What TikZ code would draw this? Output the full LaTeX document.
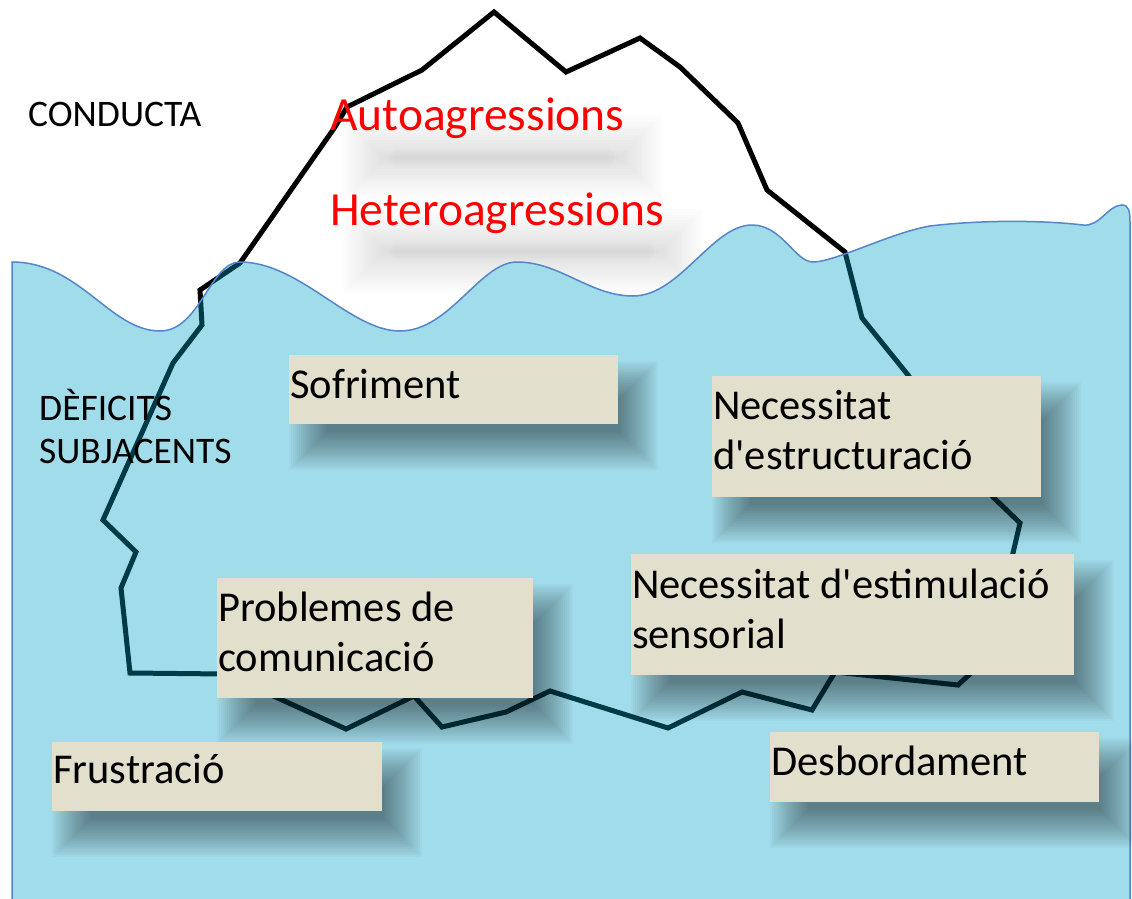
\documentclass[tikz,border=0pt]{standalone}
\usepackage{fontspec}
\setmainfont{Carlito}[Ligatures=TeXOff]
\definecolor{water}{RGB}{161,220,234}
\definecolor{waterline}{RGB}{84,134,200}
\definecolor{deep}{RGB}{0,58,72}
\definecolor{boxfill}{RGB}{226,223,204}
% soft (blurred) shadow made of stacked translucent rectangles
\newcommand\blurrect[7]{% x1 y1 x2 y2 radius alpha colour
  \foreach \k in {0,...,19}{%
    \pgfmathsetmacro\dd{#5-\k*2*#5/20}%
    \fill[#7, fill opacity=#6] ({#1-\dd},{#2-\dd}) rectangle ({#3+\dd},{#4+\dd});
  }}
\tikzset{
  iceberg path/.style={insert path={(225,674) -- (130,673) -- (121,588) -- (136,552) -- (103,520) -- (173,363) -- (202,325) -- (200,290) -- (240,263) -- (335,127) -- (347,107) -- (422,70) -- (494,12) -- (566,72) -- (640,38) -- (680,67) -- (738,123) -- (767,190) -- (845,252) -- (862,318) -- (908,375) -- (993,497) -- (1020,523) -- (1013,553) -- (985,660) -- (958,685) -- (835,672) -- (812,710) -- (742,692) -- (668,728) -- (550,691) -- (506,712) -- (442,727) -- (414,696) -- (346,729) -- (280,699) -- cycle}},
  water path/.style={insert path={(12,262) .. controls (80,262) and (110,331) .. (160,331)
     .. controls (200,331) and (210,262) .. (240,262)
     .. controls (300,262) and (350,331) .. (400,331)
     .. controls (450,331) and (480,262) .. (517,262)
     .. controls (560,262) and (590,296) .. (633,296)
     .. controls (680,296) and (712,225) .. (752,225)
     .. controls (782,225) and (795,262) .. (813,262)
     .. controls (835,262) and (890,233) .. (930,226)
     .. controls (980,220) and (1040,220) .. (1083,225)
     .. controls (1100,227) and (1108,205) .. (1122,205)
     .. controls (1129,205) and (1130,212) .. (1130,222)
     -- (1130,905) -- (12,905) -- cycle}},
  iceline/.style={line width=5pt, line join=miter, draw=black},
  deepline/.style={line width=5pt, line join=miter, draw=deep},
  box/.style={fill=boxfill, anchor=north west, inner sep=0pt, outer sep=0pt},
  lbl/.style={font=\fontsize{42.5}{50}\selectfont, anchor=base west, inner sep=0pt, align=left},
  redlbl/.style={font=\fontsize{47.5}{55}\selectfont, text=red, anchor=base west, inner sep=0pt},
  smalllbl/.style={font=\fontsize{37.5}{43}\selectfont, anchor=base west, inner sep=0pt, align=left},
}
\begin{document}
\begin{tikzpicture}[x=1pt,y=-1pt]
\useasboundingbox (0,0) rectangle (1132,899);
\fill[white] (0,0) rectangle (1132,899);
% soft shadows under the red texts
\blurrect{370}{143}{635}{172}{28}{0.009}{black}
\blurrect{370}{237}{675}{266}{28}{0.009}{black}
% iceberg outline (above water)
\draw[iceline, iceberg path];
% water
\fill[water, water path];
% iceberg outline under water
\begin{scope}
  \clip[water path];
  \draw[deepline, iceberg path];
\end{scope}
\draw[waterline, line width=1.5pt, water path];
% labels
\node[smalllbl] (conducta) at (28,126) {CONDUCTA};
\node[smalllbl] (deficits) at (39,463) {DÈFICITS\\SUBJACENTS};
\node[redlbl] (auto) at (330,130) {Autoagressions};
\node[redlbl] (hetero) at (330,225) {Heteroagressions};
% box shadows
\blurrect{309}{381}{638}{450}{20}{0.022}{black}
\blurrect{732}{402}{1061}{523}{20}{0.022}{black}
\blurrect{237}{604}{553}{724}{20}{0.022}{black}
\blurrect{651}{580}{1094}{701}{20}{0.022}{black}
\blurrect{72}{768}{402}{837}{20}{0.022}{black}
\blurrect{790}{758}{1119}{828}{20}{0.022}{black}
% boxes
\node[box, minimum width=329pt, minimum height=69pt] (b1) at (289,355) {};
\node[lbl] (t1) at (290,398) {Sofriment};
\node[box, minimum width=329pt, minimum height=121pt] (b2) at (712,376) {};
\node[lbl] (t2) at (713,469) {Necessitat\\d'estructuració};
\node[box, minimum width=316pt, minimum height=120pt] (b3) at (217,578) {};
\node[lbl] (t3) at (218,671) {Problemes de\\comunicació};
\node[box, minimum width=443pt, minimum height=121pt] (b4) at (631,554) {};
\node[lbl] (t4) at (632,648) {Necessitat d'estimulació\\sensorial};
\node[box, minimum width=330pt, minimum height=69pt] (b5) at (52,742) {};
\node[lbl] (t5) at (53,783) {Frustració};
\node[box, minimum width=329pt, minimum height=70pt] (b6) at (770,732) {};
\node[lbl] (t6) at (771,775) {Desbordament};
\end{tikzpicture}
\end{document}
